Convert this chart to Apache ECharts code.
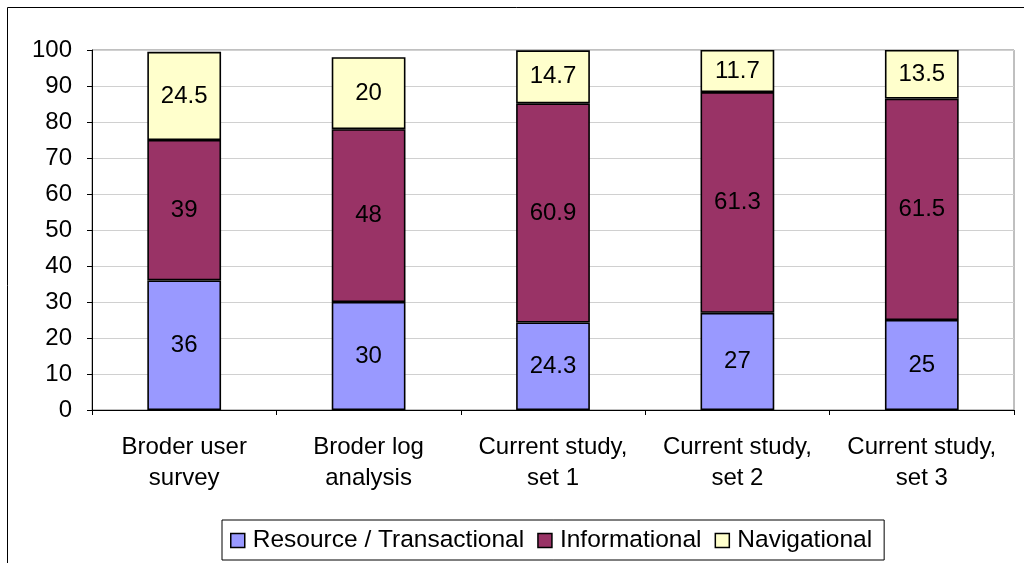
<!DOCTYPE html>
<html><head><meta charset="utf-8">
<script src="https://cdn.jsdelivr.net/npm/echarts@6/dist/echarts.min.js"></script>
<style>html,body{margin:0;padding:0;background:#fff}#c{width:1024px;height:563px}</style>
</head><body><div id="c"></div>
<script>
const categories = ['Broder user\nsurvey', 'Broder log\nanalysis', 'Current study,\nset 1', 'Current study,\nset 2', 'Current study,\nset 3'];
const resource = [36, 30, 24.3, 27, 25];
const informational = [39, 48, 60.9, 61.3, 61.5];
const navigational = [24.5, 20, 14.7, 11.7, 13.5];
const yTicks = [0, 10, 20, 30, 40, 50, 60, 70, 80, 90, 100];

const font = 'Liberation Sans, Arial, sans-serif';
function mk(name, data, color) {
  return {
    name, type: 'bar', stack: 's', data, barWidth: '40%',
    itemStyle: { color, borderColor: '#000', borderWidth: 1.6 },
    label: { show: true, position: 'inside', color: '#000', fontSize: 24, fontFamily: font },
    emphasis: { disabled: true }
  };
}
const chart = echarts.init(document.getElementById('c'));
chart.setOption({
  animation: false,
  graphic: [{ type: 'rect', shape: { x: 7.5, y: 7.5, width: 1100, height: 700 }, style: { fill: 'none', stroke: '#000', lineWidth: 1 }, silent: true }],
  grid: { left: 92, right: 10, top: 50, bottom: 153, show: true, borderColor: '#808080', borderWidth: 1 },
  legend: {
    left: 222, top: 520, data: ['Resource / Transactional', 'Informational', 'Navigational'],
    itemWidth: 14, itemHeight: 14, itemGap: 13,
    padding: [8, 12, 7, 8], borderColor: '#000', borderWidth: 1,
    textStyle: { fontSize: 24.5, fontFamily: font, color: '#000', padding: [0, 0, 0, 3] },
    icon: 'rect',
    itemStyle: { borderColor: '#000', borderWidth: 1.5 }
  },
  xAxis: {
    type: 'category', data: categories,
    axisLine: { lineStyle: { color: '#000', width: 1 } },
    axisTick: { show: true, alignWithLabel: false, length: 5, lineStyle: { color: '#000' } },
    axisLabel: { fontSize: 24, fontFamily: font, color: '#000', margin: 22, lineHeight: 31, interval: 0 }
  },
  yAxis: {
    type: 'value', min: yTicks[0], max: yTicks[yTicks.length - 1], interval: 10,
    axisLine: { show: true, lineStyle: { color: '#000' } },
    axisTick: { show: true, length: 5, lineStyle: { color: '#000' } },
    axisLabel: { fontSize: 24, fontFamily: font, color: '#000', margin: 20 },
    splitLine: { lineStyle: { color: '#d0d0d0', width: 1 } }
  },
  series: [
    mk('Resource / Transactional', resource, '#9999FF'),
    mk('Informational', informational, '#993366'),
    mk('Navigational', navigational, '#FFFFCC')
  ]
});
</script></body></html>
